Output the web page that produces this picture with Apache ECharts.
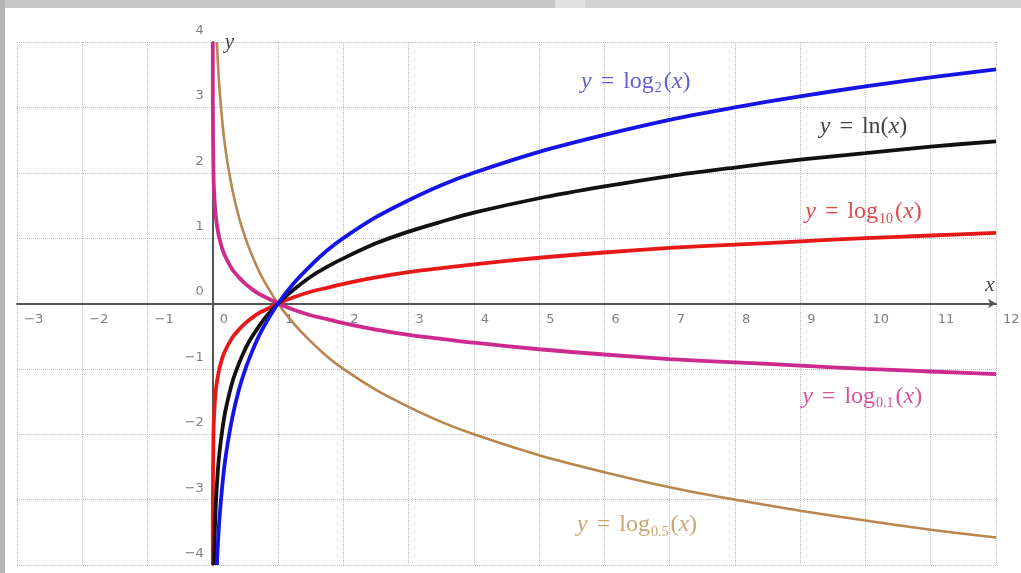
<!DOCTYPE html>
<html>
<head>
<meta charset="utf-8">
<title>Logarithm curves</title>
<script src="https://cdn.jsdelivr.net/npm/echarts@6/dist/echarts.min.js"></script>
<style>
  html, body { margin: 0; padding: 0; background: #fff; }
  #main { width: 1021px; height: 573px; }
</style>
</head>
<body>
<div id="main"></div>
<script>
// shared x samples (x >= 0.1)
var xsMain = [0.1, 0.15, 0.2, 0.3, 0.4, 0.5, 0.6, 0.7, 0.8, 1, 1.25, 1.5, 1.75, 2, 2.5, 3, 3.5, 4, 5, 6, 7, 8, 9, 10, 11, 12];

// y = log2(x)
var log2HeadX = [0.0625, 0.075];
var log2HeadY = [-4, -3.74];
var log2Main = [-3.32, -2.74, -2.32, -1.74, -1.32, -1, -0.74, -0.51, -0.32, 0, 0.32, 0.58, 0.81, 1, 1.32, 1.58, 1.81, 2, 2.32, 2.58, 2.81, 3, 3.17, 3.32, 3.46, 3.58];

// y = ln(x)
var lnHeadX = [0.0183, 0.03, 0.05, 0.075];
var lnHeadY = [-4, -3.51, -3.0, -2.59];
var lnMain = [-2.30, -1.90, -1.61, -1.20, -0.92, -0.69, -0.51, -0.36, -0.22, 0, 0.22, 0.41, 0.56, 0.69, 0.92, 1.10, 1.25, 1.39, 1.61, 1.79, 1.95, 2.08, 2.20, 2.30, 2.40, 2.48];

// y = log10(x)
var log10HeadX = [0.0001, 0.001, 0.01, 0.02, 0.04, 0.06, 0.08];
var log10HeadY = [-4, -3, -2, -1.70, -1.40, -1.22, -1.10];
var log10Main = [-1, -0.82, -0.70, -0.52, -0.40, -0.30, -0.22, -0.15, -0.10, 0, 0.10, 0.18, 0.24, 0.30, 0.40, 0.48, 0.54, 0.60, 0.70, 0.78, 0.85, 0.90, 0.95, 1, 1.04, 1.08];

// y = log0.1(x)
var log01HeadX = [0.0001, 0.001, 0.01, 0.02, 0.04, 0.06, 0.08];
var log01HeadY = [4, 3, 2, 1.70, 1.40, 1.22, 1.10];
var log01Main = [1, 0.82, 0.70, 0.52, 0.40, 0.30, 0.22, 0.15, 0.10, 0, -0.10, -0.18, -0.24, -0.30, -0.40, -0.48, -0.54, -0.60, -0.70, -0.78, -0.85, -0.90, -0.95, -1, -1.04, -1.08];

// y = log0.5(x)
var log05HeadX = [0.0625, 0.075];
var log05HeadY = [4, 3.74];
var log05Main = [3.32, 2.74, 2.32, 1.74, 1.32, 1, 0.74, 0.51, 0.32, 0, -0.32, -0.58, -0.81, -1, -1.32, -1.58, -1.81, -2, -2.32, -2.58, -2.81, -3, -3.17, -3.32, -3.46, -3.58];

var xMin = -3, xMax = 12, yMin = -4, yMax = 4;

function pairs(hx, hy, ys) {
    var out = [];
    for (var i = 0; i < hx.length; i++) out.push([hx[i], hy[i]]);
    for (var j = 0; j < xsMain.length; j++) out.push([xsMain[j], ys[j]]);
    return out;
}

function minus(v) {
    return v < 0 ? '\u2212' + (-v) : String(v);
}

var serif = 'Liberation Serif';

function richFor(color) {
    return {
        i: { fontFamily: serif, fontStyle: 'italic', fontSize: 24, color: color },
        e: { fontFamily: serif, fontSize: 24, color: color, padding: [0, 9, 0, 9] },
        r: { fontFamily: serif, fontSize: 24, color: color },
        p: { fontFamily: serif, fontSize: 24, color: color, padding: [0, 0, 0, 2] },
        s: { fontFamily: serif, fontSize: 14, color: color, padding: [14, 0, 0, 1] }
    };
}

// one curve label, placed in data coordinates
function curveLabel(coord, text, color) {
    return {
        silent: true,
        symbol: 'circle',
        symbolSize: 0,
        data: [{ coord: coord }],
        label: {
            show: true,
            position: 'inside',
            formatter: text,
            rich: richFor(color)
        }
    };
}

function curve(name, data, color, width, mark) {
    return {
        name: name,
        type: 'line',
        data: data,
        showSymbol: false,
        smooth: 0.3,
        lineStyle: { color: color, width: width },
        itemStyle: { color: color },
        markPoint: mark,
        z: 3
    };
}

var W = 1021, H = 573;
var gLeft = 17, gRight = 25, gTop = 42, gBottom = 8;
var gW = W - gLeft - gRight, gH = H - gTop - gBottom;
// move the axes so they cross at the origin
var xOffset = -gH * (0 - yMin) / (yMax - yMin);
var yOffset = -gW * (0 - xMin) / (xMax - xMin);

var chart = echarts.init(document.getElementById('main'));

chart.setOption({
    backgroundColor: '#ffffff',
    animation: false,
    graphic: [
        { type: 'rect', shape: { x: 0, y: 0, width: 555, height: 8 }, style: { fill: '#c6c6c6' } },
        { type: 'rect', shape: { x: 555, y: 0, width: 30, height: 8 }, style: { fill: '#e2e2e2' } },
        { type: 'rect', shape: { x: 585, y: 0, width: 436, height: 8 }, style: { fill: '#d4d4d4' } },
        { type: 'rect', shape: { x: 0, y: 0, width: 5, height: 573 }, style: { fill: '#b4b4b4' } }
    ],
    grid: {
        left: gLeft, right: gRight, top: gTop, bottom: gBottom,
        containLabel: false,
        outerBoundsMode: 'none'
    },
    xAxis: {
        type: 'value',
        min: xMin,
        max: xMax,
        interval: 1,
        position: 'bottom',
        offset: xOffset,
        name: 'x',
        nameLocation: 'end',
        nameGap: -6,
        nameTextStyle: {
            fontFamily: serif, fontStyle: 'italic', fontSize: 21, color: '#444',
            align: 'center', verticalAlign: 'bottom', padding: [0, 0, 8, 0]
        },
        axisLine: {
            onZero: false,
            symbol: ['none', 'arrow'],
            symbolSize: [7, 8],
            lineStyle: { color: '#555', width: 2 }
        },
        axisTick: { show: false },
        axisLabel: {
            margin: 10,
            align: 'left',
            padding: [0, 0, 0, 7],
            fontFamily: 'DejaVu Sans',
            fontSize: 13,
            color: '#808080',
            formatter: minus
        },
        splitLine: { show: true, lineStyle: { color: '#bdbdbd', type: 'dotted', width: 1 } }
    },
    yAxis: {
        type: 'value',
        min: yMin,
        max: yMax,
        interval: 1,
        position: 'left',
        offset: yOffset,
        name: 'y',
        nameLocation: 'end',
        nameGap: 0,
        nameTextStyle: {
            fontFamily: serif, fontStyle: 'italic', fontSize: 21, color: '#444',
            align: 'left', verticalAlign: 'middle', padding: [0, 0, 0, 12]
        },
        axisLine: { onZero: false, lineStyle: { color: '#555', width: 2 } },
        axisTick: { show: false },
        axisLabel: {
            margin: 9,
            verticalAlign: 'bottom',
            padding: [0, 0, 5, 0],
            fontFamily: 'DejaVu Sans',
            fontSize: 13,
            color: '#808080',
            formatter: minus
        },
        splitLine: { show: true, lineStyle: { color: '#bdbdbd', type: 'dotted', width: 1 } }
    },
    series: [
        curve('log0.5', pairs(log05HeadX, log05HeadY, log05Main), '#b8864e', 2.6,
            curveLabel([6.5, -3.39], '{i|y}{e|=}{r|log}{s|0.5}{p|(}{i|x}{r|)}', '#c9a574')),
        curve('log0.1', pairs(log01HeadX, log01HeadY, log01Main), '#cc2a8c', 3.8,
            curveLabel([9.95, -1.42], '{i|y}{e|=}{r|log}{s|0.1}{p|(}{i|x}{r|)}', '#d8509c')),
        curve('log10', pairs(log10HeadX, log10HeadY, log10Main), '#e81818', 3.8,
            curveLabel([9.97, 1.40], '{i|y}{e|=}{r|log}{s|10}{p|(}{i|x}{r|)}', '#e04848')),
        curve('ln', pairs(lnHeadX, lnHeadY, lnMain), '#111111', 3.8,
            curveLabel([9.97, 2.70], '{i|y}{e|=}{r|ln(}{i|x}{r|)}', '#444444')),
        curve('log2', pairs(log2HeadX, log2HeadY, log2Main), '#1414e6', 3.8,
            curveLabel([6.48, 3.40], '{i|y}{e|=}{r|log}{s|2}{p|(}{i|x}{r|)}', '#5f5fd8'))
    ]
});
</script>
</body>
</html>
